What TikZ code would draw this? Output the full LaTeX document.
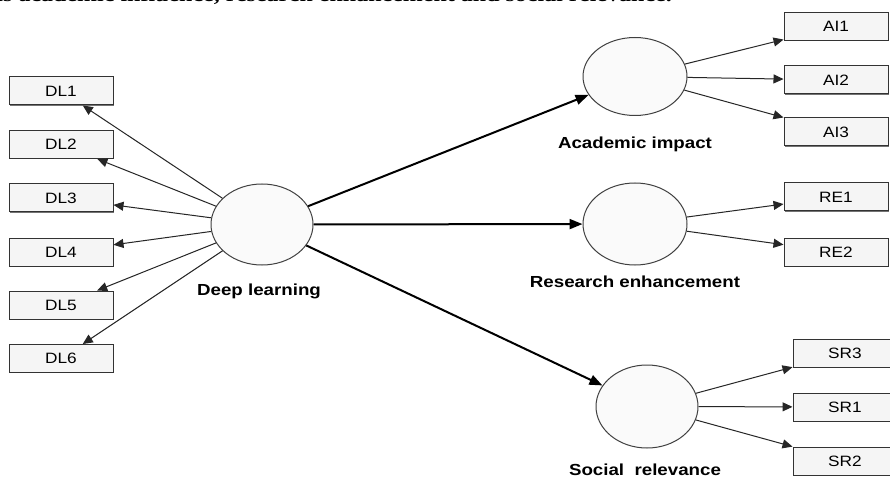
\documentclass[tikz,border=0pt]{standalone}
\usepackage{fontspec}
\setmainfont{Liberation Sans}
\newfontfamily\boxfont[FakeStretch=1.15]{Liberation Sans}
\newfontfamily\labfont[FakeStretch=1.17]{Liberation Sans}
\newfontfamily\capfont[FakeStretch=1.2]{Liberation Serif}
\usetikzlibrary{shapes.geometric,arrows.meta,shadows}

\begin{document}
\begin{tikzpicture}[x=1pt,y=-1pt,
  item/.style={draw=black!80, fill=black!4, line width=1pt,
    minimum width=104pt, minimum height=28pt, inner sep=0pt,
    text height=10.5pt, text depth=0pt,
    font=\boxfont\fontsize{15}{15}\selectfont,
    drop shadow={shadow xshift=0.9pt, shadow yshift=-0.9pt, fill=black!55, opacity=1}},
  latent/.style={ellipse, draw=black!75, fill=black!2, line width=1pt, inner sep=0pt},
  lab/.style={font=\labfont\bfseries\fontsize{16}{16}\selectfont, anchor=base, inner sep=0pt},
  load/.style={draw=black!85, line width=1pt, -{Triangle[length=10pt,width=9pt]}},
  struct/.style={draw=black, line width=2pt, -{Triangle[length=13pt,width=10pt]}},
]
% page and frame
\fill[white] (0,0) rectangle (890,478);
\useasboundingbox (0,0) rectangle (890,478);

% running caption line, cut by the top edge
\node[anchor=base west, inner sep=0pt,
      font=\capfont\bfseries\fontsize{20}{20}\selectfont] (cap) at (-9,1.5)
  {as academic influence, research enhancement and social relevance.};

% latent constructs
\node[latent, minimum width=102pt, minimum height=81pt] (dl) at (262,224.5) {};
\node[latent, minimum width=104pt, minimum height=78pt] (ai) at (635,76.5) {};
\node[latent, minimum width=104pt, minimum height=82pt] (re) at (635,224) {};
\node[latent, minimum width=102pt, minimum height=83pt] (sr) at (647,406.5) {};

% construct labels
\node[lab] (dllab) at (259,295) {Deep learning};
\node[lab] (ailab) at (635,149) {Academic impact};
\node[lab] (relab) at (635,287) {Research enhancement};
\node[lab] (srlab) at (645,475) {Social\ \ relevance};

% indicators
\node[item] (dl1) at (61,91)    {DL1};
\node[item] (dl2) at (61,144.5) {DL2};
\node[item] (dl3) at (61,198)   {DL3};
\node[item] (dl4) at (61,252)   {DL4};
\node[item] (dl5) at (61,305)   {DL5};
\node[item] (dl6) at (61,358.5) {DL6};

\node[item] (ai1) at (836,26.5) {AI1};
\node[item] (ai2) at (836,80)   {AI2};
\node[item] (ai3) at (836,132)  {AI3};

\node[item] (re1) at (836,197)  {RE1};
\node[item] (re2) at (836,252)  {RE2};

\node[item] (sr3) at (845,353)  {SR3};
\node[item] (sr1) at (845,407)  {SR1};
\node[item] (sr2) at (845,461)  {SR2};

% loadings
\foreach \k in {dl1,dl2,dl3,dl4,dl5,dl6} \draw[load] (dl) -- (\k);
\foreach \k in {ai1,ai2,ai3} \draw[load] (ai) -- (\k);
\foreach \k in {re1,re2} \draw[load] (re) -- (\k);
\foreach \k in {sr3,sr1,sr2} \draw[load] (sr) -- (\k);

% structural paths
\draw[struct] (dl) -- (ai);
\draw[struct] (dl) -- (re);
\draw[struct] (dl) -- (sr);
\end{tikzpicture}
\end{document}
